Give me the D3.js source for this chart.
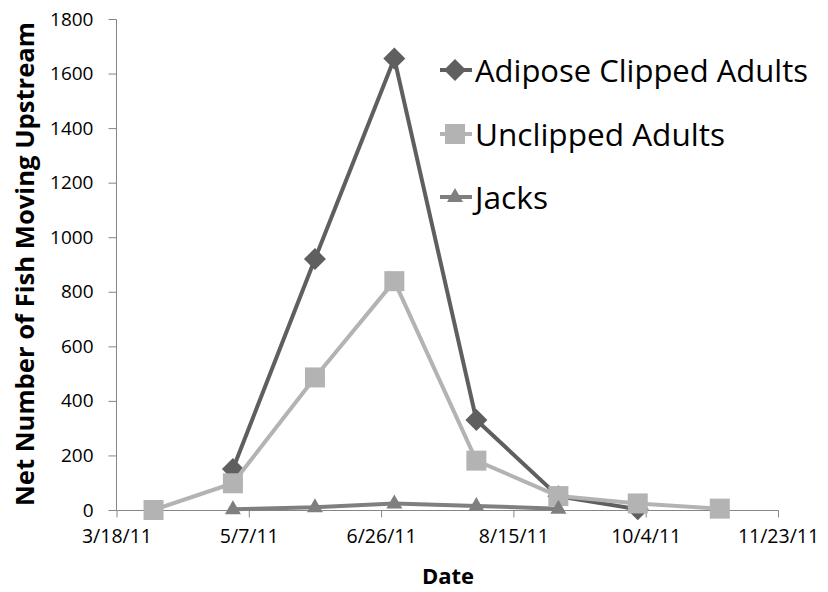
<!DOCTYPE html>
<html><head><meta charset="utf-8">
<script src="https://cdn.jsdelivr.net/npm/d3@7"></script>
<style>body{margin:0;background:#fff}svg{display:block}</style>
</head><body>
<svg id="c" width="828" height="592"></svg>
<script>
const dates = ["2011-04-01","2011-05-01","2011-06-01","2011-07-01","2011-08-01","2011-09-01","2011-10-01","2011-11-01"];
const adipose = [null,150,920,1655,330,50,3,null];
const unclipped = [0,98,486,839,181,51,24,5];
const jacks = [null,3,10,24,15,5,null,null];
const seriesNames = ["Adipose Clipped Adults","Unclipped Adults","Jacks"];
const yTicks = [0,200,400,600,800,1000,1200,1400,1600,1800];
const xStart = "2011-03-18", xEnd = "2011-11-23";

const svg = d3.select("#c");
const font = "'Open Sans','Noto Sans',sans-serif";
const parse = d3.utcParse("%Y-%m-%d");
const x = d3.scaleUtc().domain([parse(xStart), parse(xEnd)]).range([116.5, 778]);
const y = d3.scaleLinear().domain([0,1800]).range([510, 19]);
const xTicks = d3.range(0, 251, 50).map(d => d3.utcDay.offset(parse(xStart), d));
const axisColor = "#868686";

// Y axis
const ya = svg.append("g").attr("transform","translate(116.5,0)")
  .call(d3.axisLeft(y).tickValues(yTicks).tickSize(8).tickPadding(15).tickFormat(d3.format("d")));
ya.select(".domain").attr("stroke",axisColor).attr("d","M0,19.5V510.5");
ya.selectAll(".tick line").attr("stroke",axisColor);
ya.selectAll("text").attr("font-family",font).attr("font-size",19).attr("fill","#000");

// X axis
const xa = svg.append("g").attr("transform","translate(0,510.5)")
  .call(d3.axisBottom(x).tickValues(xTicks).tickSize(7).tickPadding(12).tickFormat(d3.utcFormat("%-m/%-d/%y")));
xa.select(".domain").attr("stroke",axisColor).attr("d","M116.5,0H778.5");
xa.selectAll(".tick line").attr("stroke",axisColor);
xa.selectAll("text").attr("font-family",font).attr("font-size",19.5).attr("fill","#000");

// Titles
svg.append("text").attr("x",448).attr("y",584).attr("text-anchor","middle")
  .attr("font-family",font).attr("font-weight","bold").attr("font-size",22).text("Date");
svg.append("text").attr("transform","translate(34,264) rotate(-90)").attr("text-anchor","middle")
  .attr("font-family",font).attr("font-weight","bold").attr("font-size",25)
  .attr("textLength",484).attr("lengthAdjust","spacingAndGlyphs")
  .text("Net Number of Fish Moving Upstream");

const series = [
  {name:seriesNames[0], vals:adipose, color:"#5f5f5f", sym:"diamond"},
  {name:seriesNames[1], vals:unclipped, color:"#b3b3b3", sym:"square"},
  {name:seriesNames[2], vals:jacks, color:"#7f7f7f", sym:"triangle"}
];
function marker(g, sym, color, cx, cy){
  if(sym==="diamond"){
    g.append("path").attr("d",`M${cx},${cy-11}L${cx+11},${cy}L${cx},${cy+11}L${cx-11},${cy}Z`).attr("fill",color);
  } else if(sym==="square"){
    g.append("rect").attr("x",cx-10).attr("y",cy-10).attr("width",20).attr("height",20).attr("fill",color);
  } else {
    g.append("path").attr("d",`M${cx},${cy-9}L${cx+8},${cy+5}L${cx-8},${cy+5}Z`).attr("fill",color);
  }
}
const line = d3.line().defined(d=>d.v!==null).x(d=>x(d.d)).y(d=>y(d.v));
series.forEach(s=>{
  const pts = dates.map((d,i)=>({d:parse(d), v:s.vals[i]}));
  svg.append("path").datum(pts).attr("d",line).attr("fill","none")
    .attr("stroke",s.color).attr("stroke-width",4).attr("stroke-linejoin","round");
  const g = svg.append("g");
  pts.filter(p=>p.v!==null).forEach(p=>marker(g,s.sym,s.color,x(p.d),y(p.v)));
});

// Legend
const legY = [70,134,197];
const legW = [333,250,73];
series.forEach((s,i)=>{
  const g = svg.append("g");
  g.append("line").attr("x1",440).attr("x2",472).attr("y1",legY[i]).attr("y2",legY[i])
    .attr("stroke",s.color).attr("stroke-width",4);
  marker(g,s.sym,s.color,455,legY[i]);
  g.append("text").attr("x",475).attr("y",legY[i]+12).attr("font-family",font).attr("font-size",31)
    .attr("textLength",legW[i]).attr("lengthAdjust","spacingAndGlyphs").text(s.name);
});
</script>
</body></html>
